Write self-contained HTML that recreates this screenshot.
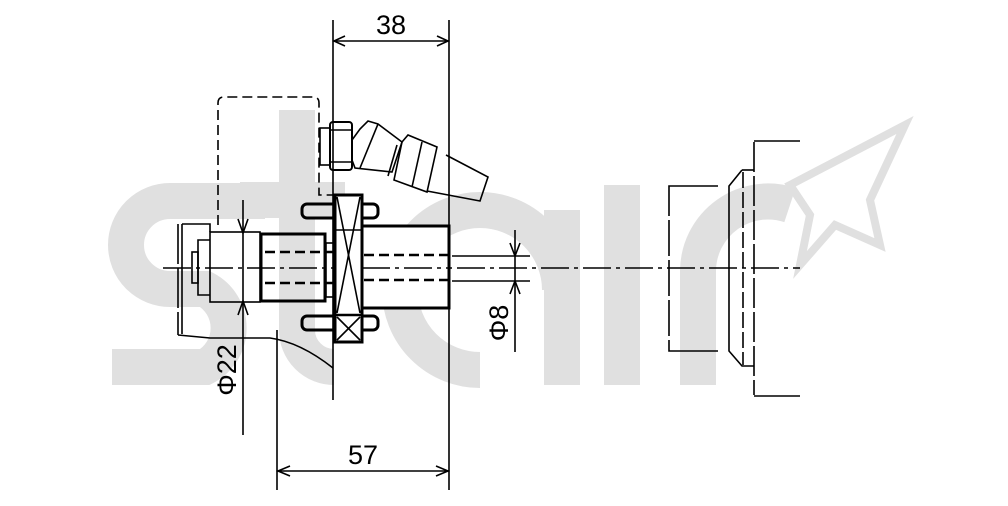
<!DOCTYPE html>
<html><head><meta charset="utf-8"><style>html,body{margin:0;padding:0;background:#fff}svg{display:block}</style></head>
<body>
<svg width="1008" height="506" viewBox="0 0 1008 506" xmlns="http://www.w3.org/2000/svg">
<rect width="1008" height="506" fill="#fff"/>
<!-- watermark shapes -->
<g fill="none" stroke="#e0e0e0" stroke-width="36">
<path d="M265,201 H170 A44,44 0 0 0 170,289 H205 A44,44 0 0 1 205,367 H112"/>
<path d="M297,110 V330 A37,37 0 0 0 334,367"/>
<line x1="240" y1="200" x2="345" y2="200"/>
<path d="M560,290 A80,80 0 1 0 480,370"/>
<line x1="562" y1="210" x2="562" y2="385"/>
<line x1="622" y1="185" x2="622" y2="385"/>
<path d="M698,385 V270 A70,70 0 0 1 790,205"/>
</g>
<text x="597" y="170" font-family="Liberation Sans, sans-serif" font-size="1" fill="#fff"> </text>
<polygon points="790,185 905,125 870,200 880,245 835,225 800,265 810,215" fill="none" stroke="#e0e0e0" stroke-width="8"/>

<g fill="none" stroke="#000" stroke-width="1.6">
<line x1="163" y1="268" x2="800" y2="268" stroke-dasharray="28,5,4,5"/>
<line x1="333" y1="20" x2="333" y2="400"/>
<line x1="449" y1="20" x2="449" y2="490"/>
<line x1="333" y1="41" x2="449" y2="41"/>
<polyline points="345,36 334,41 345,46"/><polyline points="437,36 448,41 437,46"/>
<line x1="277" y1="330" x2="277" y2="490"/>
<line x1="277" y1="471" x2="449" y2="471"/>
<polyline points="290,466 278,471 290,476"/><polyline points="436,466 448,471 436,476"/>
<line x1="243" y1="200" x2="243" y2="435"/>
<polyline points="238,219 243,233 248,219"/><polyline points="238,315 243,301 248,315"/>
<line x1="515" y1="230" x2="515" y2="352"/>
<line x1="452" y1="256" x2="530" y2="256"/><line x1="452" y1="281" x2="530" y2="281"/>
<polyline points="510,243 515,256 520,243"/><polyline points="510,294 515,281 520,294"/>
<path d="M218,225 L218,103 Q218,97 224,97 L313,97 Q319,97 319,103 L319,195 L333,195" stroke-dasharray="10,5"/>
<path d="M178,224 L178,335" stroke-dasharray="40,4"/>
<path d="M182,224 L210,224 L210,232"/>
<line x1="182" y1="224" x2="182" y2="334"/>
<rect x="210" y="232" width="50" height="70"/>
<polyline points="210,240 198,240 198,295 210,295"/>
<rect x="192" y="252" width="6" height="31"/>
<path d="M178,335 L210,338 L270,338 Q300,342 333,368"/>
<rect x="261" y="234" width="64" height="67" stroke-width="3"/>
<line x1="265" y1="252" x2="335" y2="252" stroke-dasharray="10,5" stroke-width="2.5"/>
<line x1="265" y1="283" x2="335" y2="283" stroke-dasharray="10,5" stroke-width="2.5"/>
<rect x="326" y="243" width="9" height="54"/>
<rect x="302" y="204" width="76" height="14" rx="5" stroke-width="3"/>
<rect x="302" y="316" width="76" height="14" rx="5" stroke-width="3"/>
<rect x="335" y="195" width="27" height="147" fill="#fff" stroke-width="3"/>
<line x1="337" y1="197" x2="360" y2="313"/><line x1="360" y1="197" x2="337" y2="313"/>
<line x1="335" y1="315" x2="362" y2="315" stroke-width="2.5"/>
<line x1="337" y1="317" x2="360" y2="340"/><line x1="360" y1="317" x2="337" y2="340"/>
<line x1="335" y1="230" x2="362" y2="230"/>
<rect x="362" y="226" width="87" height="82" fill="#fff" stroke-width="3"/>
<line x1="364" y1="255" x2="449" y2="255" stroke-dasharray="10,5" stroke-width="2.5"/>
<line x1="364" y1="280" x2="449" y2="280" stroke-dasharray="10,5" stroke-width="2.5"/>
<line x1="362" y1="268" x2="449" y2="268" stroke-dasharray="28,5,4,5"/>
<rect x="320" y="128" width="10" height="37"/>
<rect x="330" y="122" width="22" height="48" rx="3" stroke-width="2"/>
<line x1="330" y1="130" x2="352" y2="130"/><line x1="330" y1="162" x2="352" y2="162"/>
<polygon points="352,140 360,129 368,121 378,124 402,142 392,172 355,168 352,160"/>
<line x1="378" y1="124" x2="360" y2="168"/>
<polygon points="402,142 408,135 437,147 427,192 394,180"/>
<line x1="397" y1="145" x2="388" y2="176"/>
<line x1="422" y1="142" x2="412" y2="187"/>
<polyline points="446,155 488,177 480,201 427,191"/>
</g>
<g fill="none" stroke="#000" stroke-width="1.6">
<polyline points="718,186 669,186 669,351 718,351"/>
<line x1="669" y1="186" x2="669" y2="351" stroke="#fff" stroke-width="3" stroke-dasharray="0,30,4,6"/>
<polyline points="742,170 729,186 729,351 742,366 754,366"/>
<line x1="742" y1="170" x2="754" y2="170"/>
<line x1="743" y1="172" x2="743" y2="365" stroke-dasharray="16,4"/>
<line x1="754" y1="142" x2="754" y2="395" stroke-dasharray="30,4"/>
<polyline points="800,141 754,141"/><polyline points="800,396 754,396"/>
</g>
<g font-family="Liberation Sans, DejaVu Sans, sans-serif" font-size="27" fill="#000">
<text x="391" y="34" text-anchor="middle">38</text>
<text x="363" y="464" text-anchor="middle">57</text>
<text transform="translate(236,370) rotate(-90)" text-anchor="middle">Φ22</text>
<text transform="translate(508,323) rotate(-90)" text-anchor="middle">Φ8</text>
</g>
</svg>
</body></html>
